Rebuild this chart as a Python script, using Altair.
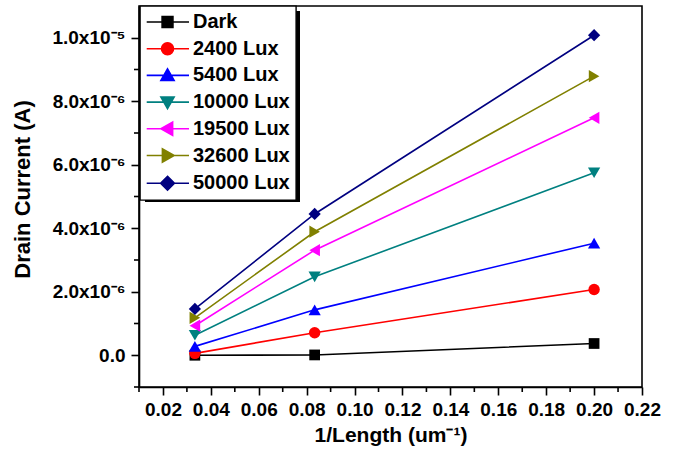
import altair as alt
import pandas as pd

# ---- data ----
X_VALUES = [1/30, 1/12, 1/5]
SERIES = ["Dark", "2400 Lux", "5400 Lux", "10000 Lux", "19500 Lux", "32600 Lux", "50000 Lux"]
DARK = [0.0, 0.01e-6, 0.37e-6]
LUX_2400 = [0.06e-6, 0.71e-6, 2.07e-6]
LUX_5400 = [0.28e-6, 1.43e-6, 3.53e-6]
LUX_10000 = [0.63e-6, 2.47e-6, 5.75e-6]
LUX_19500 = [0.93e-6, 3.31e-6, 7.48e-6]
LUX_32600 = [1.18e-6, 3.89e-6, 8.79e-6]
LUX_50000 = [1.46e-6, 4.45e-6, 1.008e-5]
COLORS = ["#000000", "#ff0000", "#0000ff", "#008080", "#ff00ff", "#808000", "#000080"]
SHAPES = ["square", "circle", "triangle-up", "triangle-down", "triangle-left", "triangle-right", "diamond"]
SIZES = [115, 130, 150, 150, 150, 150, 150]

X_MAJOR = [0.02, 0.04, 0.06, 0.08, 0.10, 0.12, 0.14, 0.16, 0.18, 0.20, 0.22]
X_MINOR = [0.01, 0.03, 0.05, 0.07, 0.09, 0.11, 0.13, 0.15, 0.17, 0.19, 0.21]
Y_MAJOR = [0.0, 2e-6, 4e-6, 6e-6, 8e-6, 1e-5]
Y_LABELS = ["0.0", "2.0x10\u207b\u2076", "4.0x10\u207b\u2076", "6.0x10\u207b\u2076",
            "8.0x10\u207b\u2076", "1.0x10\u207b\u2075"]
Y_MINOR = [-1e-6, 1e-6, 3e-6, 5e-6, 7e-6, 9e-6]

ALL = [DARK, LUX_2400, LUX_5400, LUX_10000, LUX_19500, LUX_32600, LUX_50000]
rows = []
for name, vals in zip(SERIES, ALL):
    for x, y in zip(X_VALUES, vals):
        rows.append({"x": x, "y": y, "Series": name})
df = pd.DataFrame(rows)

FONT = "Liberation Sans"
W, H = 503, 381

# legend symbols: a line with the marker on it (custom paths)
L0, L1, C = -1.55, 5.5, 1.92
def sym(shape):
    line = f"M{L0},0H{L1}"
    if shape == "square":
        m = f"M{C-0.9},-0.9H{C+0.9}V0.9H{C-0.9}Z"
    elif shape == "circle":
        m = f"M{C-1},0A1,1 0 1,0 {C+1},0A1,1 0 1,0 {C-1},0Z"
    elif shape == "triangle-up":
        m = f"M{C},-1.1L{C+1.1},0.85L{C-1.1},0.85Z"
    elif shape == "triangle-down":
        m = f"M{C},1.1L{C+1.1},-0.85L{C-1.1},-0.85Z"
    elif shape == "triangle-left":
        m = f"M{C-1.1},0L{C+0.85},-1.1L{C+0.85},1.1Z"
    elif shape == "triangle-right":
        m = f"M{C+1.1},0L{C-0.85},-1.1L{C-0.85},1.1Z"
    else:
        m = f"M{C},-1.15L{C+1.15},0L{C},1.15L{C-1.15},0Z"
    return line + m

LEG_PATHS = [sym(s) for s in SHAPES]

x_scale = alt.Scale(domain=[0.01, 0.22], nice=False, zero=False)
y_scale = alt.Scale(domain=[-1e-6, 1.1e-5], nice=False, zero=False)

x_enc = alt.X("x:Q", scale=x_scale,
              axis=alt.Axis(values=X_MAJOR, title="1/Length (um\u207b\u00b9)", format=".2f",
                            tickSize=8, grid=False, labelPadding=5, titlePadding=5,
                            labelOverlap=False, labelFlush=False))
y_label_expr = ("[" + ",".join("'" + s + "'" for s in Y_LABELS) + "][indexof([" +
                ",".join(repr(v) for v in Y_MAJOR) + "], datum.value)]")
y_enc = alt.Y("y:Q", scale=y_scale,
              axis=alt.Axis(values=Y_MAJOR, title="Drain Current (A)",
                            labelExpr=y_label_expr, tickSize=8, labelOverlap=False, labelFlush=False,
                            grid=False, labelPadding=6, titlePadding=17, titleY=183,
                            titleFontSize=22))

layers = []
# legend drop shadow (decoration behind the legend box)
layers.append(alt.Chart(pd.DataFrame({"a": [0]})).mark_rect(color="black").encode(
    x=alt.value(6), x2=alt.value(161), y=alt.value(5), y2=alt.value(196)))

first = True
for name, col in zip(SERIES, COLORS):
    ln = alt.Chart(df).transform_filter(alt.datum.Series == name).mark_line(
        strokeWidth=1.6, color=col)
    if first:
        ln = ln.encode(x=x_enc, y=y_enc)
        first = False
    else:
        ln = ln.encode(x="x:Q", y="y:Q")
    layers.append(ln)
for name, col, shp, sz in zip(SERIES, COLORS, SHAPES, SIZES):
    layers.append(
        alt.Chart(df).transform_filter(alt.datum.Series == name)
        .mark_point(filled=True, size=sz, opacity=1, shape=shp, color=col)
        .encode(x="x:Q", y="y:Q")
    )

# minor ticks, positioned through the shared scales
layers.append(alt.Chart(pd.DataFrame({"x": X_MINOR})).mark_rule(color="black", strokeWidth=1.6).encode(
    x="x:Q", y=alt.value(H), y2=alt.value(H + 5)))
layers.append(alt.Chart(pd.DataFrame({"y": Y_MINOR})).mark_rule(color="black", strokeWidth=1.6).encode(
    y="y:Q", x=alt.value(0), x2=alt.value(-5)))

legend = alt.Legend(title=None, orient="none", legendX=1, legendY=0, zindex=2,
                    labelFont=FONT, labelFontSize=20, labelFontWeight="bold", labelColor="black",
                    symbolSize=144, symbolStrokeWidth=1.6, labelOffset=27, rowPadding=6.7,
                    padding=6, strokeColor="black", fillColor="white",
                    labelLimit=300)
layers.append(alt.Chart(df).mark_point(filled=True, opacity=0).encode(
    x="x:Q", y="y:Q",
    fill=alt.Fill("Series:N", scale=alt.Scale(domain=SERIES, range=COLORS), legend=legend),
    stroke=alt.Stroke("Series:N", scale=alt.Scale(domain=SERIES, range=COLORS), legend=legend),
    shape=alt.Shape("Series:N", scale=alt.Scale(domain=SERIES, range=LEG_PATHS), legend=legend),
))

chart = alt.layer(*layers).properties(
    width=W, height=H,
    padding={"left": 139, "top": 6, "right": 31, "bottom": 62},
    autosize="none", background="white",
).configure_view(stroke="black", strokeWidth=1.6).configure_axis(
    labelFont=FONT, labelFontSize=19, labelFontWeight="bold", labelColor="black",
    titleFont=FONT, titleFontSize=21, titleFontWeight="bold", titleColor="black",
    domainColor="black", domainWidth=1.6, tickColor="black", tickWidth=1.6,
).configure_legend(symbolOpacity=1, strokeWidth=1.4)

chart.save("out.html", embed_options={"renderer": "svg", "actions": False})
